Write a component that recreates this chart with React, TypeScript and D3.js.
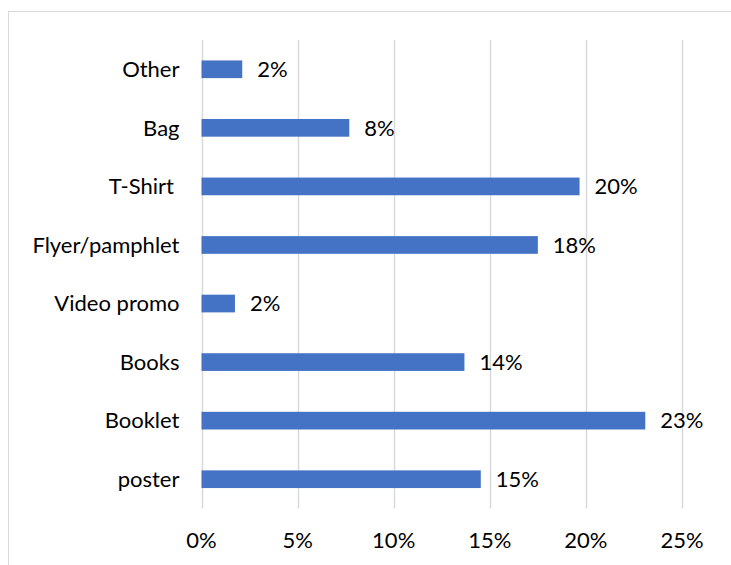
import React from "react";
import * as d3 from "d3";

const categories = ["Other", "Bag", "T-Shirt ", "Flyer/pamphlet", "Video promo", "Books", "Booklet", "poster"];
const values = [0.0212, 0.0769, 0.1967, 0.175, 0.0174, 0.1368, 0.2309, 0.1453];
const valueLabels = ["2%", "8%", "20%", "18%", "2%", "14%", "23%", "15%"];
const ticks = [0, 0.05, 0.1, 0.15, 0.2, 0.25];
const tickLabels = ["0%", "5%", "10%", "15%", "20%", "25%"];

const W = 731;
const H = 565;
const FONT = "Lato, 'Open Sans', sans-serif";
const FS = 22;

export default function App() {
  const x = d3.scaleLinear().domain([0, 0.25]).range([201.5, 682]);
  const y = d3.scaleBand<string>().domain(categories).range([40, 508.5]).padding(0);
  const step = y.step();
  const barH = step * 0.302;

  return (
    <div style={{ position: "absolute", left: 0, top: 0, width: W, height: H, background: "#fff" }}>
      <svg width={W} height={H} style={{ display: "block" }}>
        <rect x={8.5} y={11.5} width={W + 20} height={H + 20} fill="#fff" stroke="#D9D9D9" strokeWidth={1} />
        {ticks.map((t) => (
          <line
            key={"g" + t}
            x1={Math.round(x(t)) + 0.5}
            x2={Math.round(x(t)) + 0.5}
            y1={40}
            y2={508.5}
            stroke="#D9D9D9"
            strokeWidth={1.5}
          />
        ))}
        {categories.map((c, i) => {
          const cy = (y(c) as number) + step / 2;
          return (
            <g key={c}>
              <rect x={x(0)} y={cy - barH / 2} width={x(values[i]) - x(0)} height={barH} fill="#4472C4" />
              <text
                x={179.5}
                y={cy}
                dy="0.35em"
                textAnchor="end"
                fontFamily={FONT}
                fontSize={FS}
                fill="#000"
                style={{ whiteSpace: "pre" }}
              >
                {c}
              </text>
              <text x={x(values[i]) + 15} y={cy} dy="0.35em" fontFamily={FONT} fontSize={FS} fill="#000">
                {valueLabels[i]}
              </text>
            </g>
          );
        })}
        {ticks.map((t, i) => (
          <text key={"t" + t} x={x(t)} y={540} dy="0.35em" textAnchor="middle" fontFamily={FONT} fontSize={FS} fill="#000">
            {tickLabels[i]}
          </text>
        ))}
      </svg>
    </div>
  );
}
